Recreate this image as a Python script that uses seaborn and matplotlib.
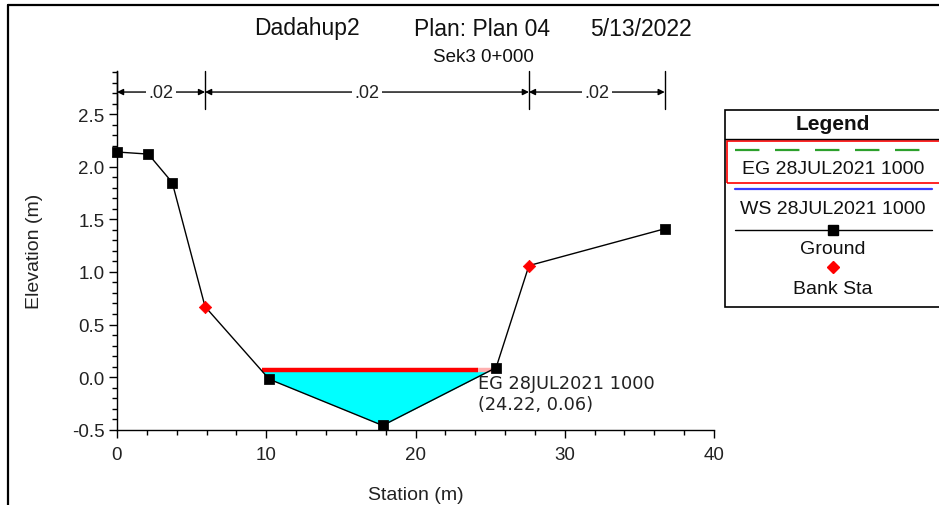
import numpy as np
import matplotlib
matplotlib.use("Agg")
import matplotlib.pyplot as plt
import seaborn as sns
from matplotlib.patches import Rectangle
from matplotlib.lines import Line2D

ground_sta = [0.0, 2.1, 3.7, 5.9, 10.2, 17.8, 25.4, 27.6, 36.7]
ground_elev = [2.14, 2.12, 1.85, 0.67, -0.02, -0.46, 0.09, 1.06, 1.41]
bank_sta = [5.9, 27.6]
bank_elev = [0.67, 1.06]
ws_elev = 0.06
eg_sta = [9.7, 24.22]
eg_elev = [0.07, 0.07]
n_edges = [0.0, 5.9, 27.6, 36.7]
n_labels = [".02", ".02", ".02"]

sns.set_theme(style="white")
plt.rcParams['font.family'] = ['Liberation Sans', 'DejaVu Sans']

W, H = 939, 506
fig = plt.figure(figsize=(W / 100, H / 100), dpi=100)
fx = lambda px: px / W
fy = lambda py: 1 - py / H

ax = fig.add_axes([fx(117), fy(430.7), fx(714) - fx(117), fy(72) - fy(430.7)])
ax.set_xlim(0, 40)
ax.set_ylim(-0.5, 2.91)

# water fill between ground and water surface
g = np.array(ground_elev)
ax.fill_between(ground_sta, g, ws_elev, where=g < ws_elev, interpolate=True,
                color="#00ffff", linewidth=0, zorder=1)

# energy grade (highlighted selection in red)
ax.plot(eg_sta, eg_elev, color="red", linewidth=3.2, zorder=3, solid_capstyle="butt")
ax.plot([eg_sta[1], 25.2], [0.07, 0.07], color="#ffb0b0", linewidth=3.2, zorder=2)

# ground line, then markers (bank stations get the red marker only)
sns.lineplot(x=ground_sta, y=ground_elev, ax=ax, color="black", linewidth=1.0,
             sort=False, zorder=4)
plain = [i for i, s in enumerate(ground_sta) if s not in bank_sta]
sns.scatterplot(x=[ground_sta[i] for i in plain], y=[ground_elev[i] for i in plain],
                ax=ax, color="black", marker="s", s=45, edgecolor="black",
                zorder=5, clip_on=False)
sns.scatterplot(x=bank_sta, y=bank_elev, ax=ax, color="red", marker="D", s=40,
                edgecolor="red", zorder=5, clip_on=False)

# manning's n brackets
for xe in n_edges:
    ax.plot([xe, xe], [2.55, 2.91], color="black", linewidth=1.0, clip_on=False, zorder=4)
for i, lab in enumerate(n_labels):
    a, b = n_edges[i], n_edges[i + 1]
    ax.annotate("", xy=(a, 2.71), xytext=(b, 2.71),
                arrowprops=dict(arrowstyle="<|-|>", color="black", lw=1.0,
                                mutation_scale=9, shrinkA=0, shrinkB=0))
    ax.text((a + b) / 2, 2.71, lab, ha="center", va="center", fontsize=13,
            color="#222222", bbox=dict(facecolor="white", edgecolor="none", pad=1.5), zorder=6)

# point label
ax.text(24.22, 0.03, "EG 28JUL2021 1000\n(24.22, 0.06)", ha="left", va="top",
        fontsize=12.8, family=["DejaVu Sans"], color="#222222", linespacing=1.2, zorder=7)

# axes styling
for s in ["top", "right"]:
    ax.spines[s].set_visible(False)
for s in ["left", "bottom"]:
    ax.spines[s].set_color("black")
    ax.spines[s].set_linewidth(1.0)
ax.set_xticks([0, 10, 20, 30, 40])
ax.set_xticks(np.arange(0, 41, 2), minor=True)
ax.set_yticks([-0.5, 0.0, 0.5, 1.0, 1.5, 2.0, 2.5])
ax.set_yticks(np.arange(-0.5, 2.91, 0.1), minor=True)
ax.set_yticklabels(["-0.5", "0.0", "0.5", "1.0", "1.5", "2.0", "2.5"])
ax.tick_params(which="major", direction="out", length=6, width=1, color="black",
               labelsize=13.5, labelcolor="#222222", left=True, bottom=True, pad=3)
ax.tick_params(axis="x", which="major", pad=6)
ax.tick_params(which="minor", direction="out", length=3.5, width=1, color="black",
               left=True, bottom=True)
ax.set_xlabel("Station (m)", fontsize=14, color="#222222", labelpad=16)
ax.set_ylabel("Elevation (m)", fontsize=14, color="#222222", labelpad=21)
ax.grid(False)

# titles
fig.text(fx(254), fy(29), "Dadahup2", fontsize=16.5, va="center", ha="left", color="#111111")
fig.text(fx(414), fy(29), "Plan: Plan 04", fontsize=16.5, va="center", ha="left", color="#111111")
fig.text(fx(590), fy(29), "5/13/2022", fontsize=16.5, va="center", ha="left", color="#111111")
fig.text(fx(483), fy(57), "Sek3 0+000", fontsize=13.5, va="center", ha="center", color="#111111")

# figure border (top and left visible)
fig.add_artist(Line2D([fx(8), fx(8)], [fy(6), 0], color="black", linewidth=1.6))
fig.add_artist(Line2D([fx(8), 1], [fy(6), fy(6)], color="black", linewidth=1.6))

# legend panel
fig.add_artist(Rectangle((fx(725), fy(308)), fx(960) - fx(725), fy(111) - fy(308),
                         facecolor="white", edgecolor="black", linewidth=1.2))
fig.add_artist(Line2D([fx(725), 1], [fy(140), fy(140)], color="black", linewidth=1.0))
fig.text(fx(833), fy(125), "Legend", fontsize=15, fontweight="bold", ha="center",
         va="center", color="#111111")
fig.add_artist(Rectangle((fx(727), fy(184)), fx(960) - fx(727), fy(142) - fy(184),
                         facecolor="none", edgecolor="red", linewidth=1.2))
fig.add_artist(Line2D([fx(735), fx(932)], [fy(151), fy(151)], color="#2ca02c",
                      linewidth=1.6, dashes=(11, 7)))
fig.text(fx(833), fy(170), "EG 28JUL2021 1000", fontsize=14, ha="center", va="center", color="#111111")
fig.add_artist(Line2D([fx(735), fx(932)], [fy(190), fy(190)], color="#3a3aff", linewidth=1.6))
fig.text(fx(833), fy(210), "WS 28JUL2021 1000", fontsize=14, ha="center", va="center", color="#111111")
fig.add_artist(Line2D([fx(735), fx(932)], [fy(231), fy(231)], color="black", linewidth=1.0))
fig.add_artist(Line2D([fx(833)], [fy(231)], color="black", marker="s", markersize=6.5))
fig.text(fx(833), fy(249), "Ground", fontsize=14, ha="center", va="center", color="#111111")
fig.add_artist(Line2D([fx(833)], [fy(268)], color="red", marker="D", markersize=6, linestyle="none"))
fig.text(fx(833), fy(290), "Bank Sta", fontsize=14, ha="center", va="center", color="#111111")

fig.savefig("out.png", dpi=100)
